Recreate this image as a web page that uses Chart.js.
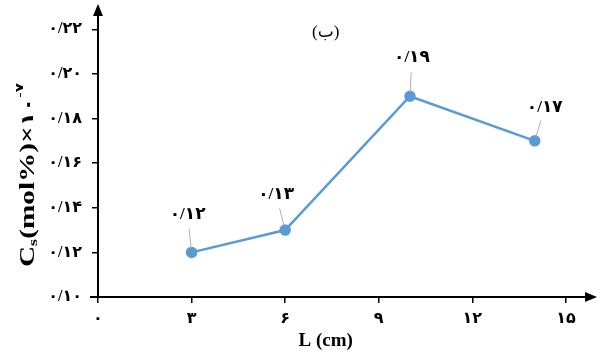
<!DOCTYPE html>
<html>
<head>
<meta charset="utf-8">
<script src="https://cdn.jsdelivr.net/npm/chart.js@4.4.1/dist/chart.umd.min.js"></script>
<style>
  html, body { margin: 0; padding: 0; background: #fff; }
  #wrap { width: 601px; height: 355px; }
</style>
</head>
<body>
<div id="wrap"><canvas id="myChart" width="601" height="355"></canvas></div>
<script>
// data
const lengths = [3, 6, 10, 14];            // L (cm)
const csValues = [0.12, 0.13, 0.19, 0.17];  // Cs (mol%) x 10^-7
const xTickValues = [0, 3, 6, 9, 12, 15];
const yTickValues = [0.10, 0.12, 0.14, 0.16, 0.18, 0.20, 0.22];

const chartTitle = '(ب)';
const xTitle = 'L (cm)';

// label offsets (px) for the value labels, from each point
const labelOffsets = [[-4, -38], [-9, -35], [2, -39], [10, -33]];

const FONT = '"Liberation Serif", "DejaVu Sans", serif';
const LINE_BLUE = '#5b9bd5';

// persian digits, "/" as decimal sign
const toFa = (s) => String(s).replace(/[0-9]/g, d => '۰۱۲۳۴۵۶۷۸۹'[d]).replace('.', '/');

const extras = {
  id: 'extras',
  afterDraw(chart) {
    const ctx = chart.ctx;
    const area = chart.chartArea;
    const xs = chart.scales.x;
    const ys = chart.scales.y;
    ctx.save();

    // axis arrows
    ctx.fillStyle = '#000';
    ctx.beginPath();
    ctx.moveTo(area.left, area.top - 3);
    ctx.lineTo(area.left - 5, area.top + 9);
    ctx.lineTo(area.left + 5, area.top + 9);
    ctx.closePath();
    ctx.fill();
    ctx.beginPath();
    ctx.moveTo(area.right + 3, area.bottom);
    ctx.lineTo(area.right - 9, area.bottom - 5);
    ctx.lineTo(area.right - 9, area.bottom + 5);
    ctx.closePath();
    ctx.fill();
    ctx.strokeStyle = '#000';
    ctx.lineWidth = 2;
    ctx.beginPath();
    ctx.moveTo(area.left - 8, area.bottom);
    ctx.lineTo(area.left, area.bottom);
    ctx.stroke();

    // value labels with leader lines
    const meta = chart.getDatasetMeta(0);
    meta.data.forEach((pt, i) => {
      const [dx, dy] = labelOffsets[i];
      ctx.strokeStyle = '#b0b0b0';
      ctx.lineWidth = 1;
      ctx.beginPath();
      ctx.moveTo(pt.x + dx * 0.12, pt.y + dy * 0.12);
      ctx.lineTo(pt.x + dx * 0.62, pt.y + dy * 0.62);
      ctx.stroke();
      ctx.fillStyle = '#000';
      ctx.font = 'bold 17px ' + FONT;
      ctx.textAlign = 'center';
      ctx.textBaseline = 'middle';
      ctx.fillText(toFa(csValues[i].toFixed(2)), pt.x + dx, pt.y + dy);
    });

    // chart title (ب)
    ctx.font = '17px ' + FONT;
    ctx.textAlign = 'center';
    ctx.textBaseline = 'middle';
    ctx.fillText(chartTitle, xs.getPixelForValue(7.3), ys.getPixelForValue(0.2185));

    // x title
    ctx.font = 'bold 19px ' + FONT;
    ctx.fillText(xTitle, xs.getPixelForValue(7.3), 341);

    // y title, rotated, with subscript and superscript
    const parts = [
      { t: 'C', size: 21, dy: 0 },
      { t: 's', size: 13, dy: 5 },
      { t: '(mol%)×', size: 21, dy: 0 },
      { t: '۱۰', size: 17, dy: 0 },
      { t: '-۷', size: 11, dy: -9 }
    ];
    let total = 0;
    parts.forEach(p => {
      ctx.font = 'bold ' + p.size + 'px ' + FONT;
      p.w = ctx.measureText(p.t).width;
      total += p.w;
    });
    const target = 184;
    ctx.translate(29, 175);
    ctx.rotate(-Math.PI / 2);
    ctx.scale(target / total, 1);
    ctx.textAlign = 'left';
    ctx.textBaseline = 'middle';
    let x = -total / 2;
    parts.forEach(p => {
      ctx.font = 'bold ' + p.size + 'px ' + FONT;
      ctx.fillText(p.t, x, p.dy);
      x += p.w;
    });
    ctx.restore();
  }
};

const ctx = document.getElementById('myChart').getContext('2d');
new Chart(ctx, {
  type: 'line',
  data: {
    datasets: [{
      data: lengths.map((l, i) => ({ x: l, y: csValues[i] })),
      borderColor: LINE_BLUE,
      backgroundColor: LINE_BLUE,
      borderWidth: 2.5,
      pointRadius: 4.5,
      pointHoverRadius: 4.5,
      fill: false,
      tension: 0
    }]
  },
  options: {
    responsive: false,
    animation: false,
    layout: { padding: { top: 7, right: 0, left: 0, bottom: 0 } },
    plugins: {
      legend: { display: false },
      tooltip: { enabled: false }
    },
    scales: {
      x: {
        type: 'linear',
        min: 0,
        max: 15.9,
        afterBuildTicks: (s) => { s.ticks = xTickValues.map(v => ({ value: v })); },
        afterFit: (s) => { s.height = 58; s.paddingLeft = 0; s.paddingRight = 0; },
        border: { color: '#000', width: 2 },
        grid: { drawOnChartArea: false, drawTicks: true, tickLength: 6, color: '#000', lineWidth: 1.5 },
        ticks: {
          padding: 6,
          color: '#000',
          font: { family: FONT, size: 16, weight: 'bold' },
          callback: (v) => toFa(v)
        }
      },
      y: {
        type: 'linear',
        min: 0.10,
        max: 0.23,
        afterBuildTicks: (s) => { s.ticks = yTickValues.map(v => ({ value: v })); },
        afterFit: (s) => { s.width = 98; s.paddingTop = 0; s.paddingBottom = 0; },
        border: { color: '#000', width: 2 },
        grid: { drawOnChartArea: false, drawTicks: true, tickLength: 6, color: '#000', lineWidth: 1.5 },
        ticks: {
          padding: 10,
          color: '#000',
          font: { family: FONT, size: 16, weight: 'bold' },
          callback: (v) => toFa(v.toFixed(2))
        }
      }
    }
  },
  plugins: [extras]
});
</script>
</body>
</html>
